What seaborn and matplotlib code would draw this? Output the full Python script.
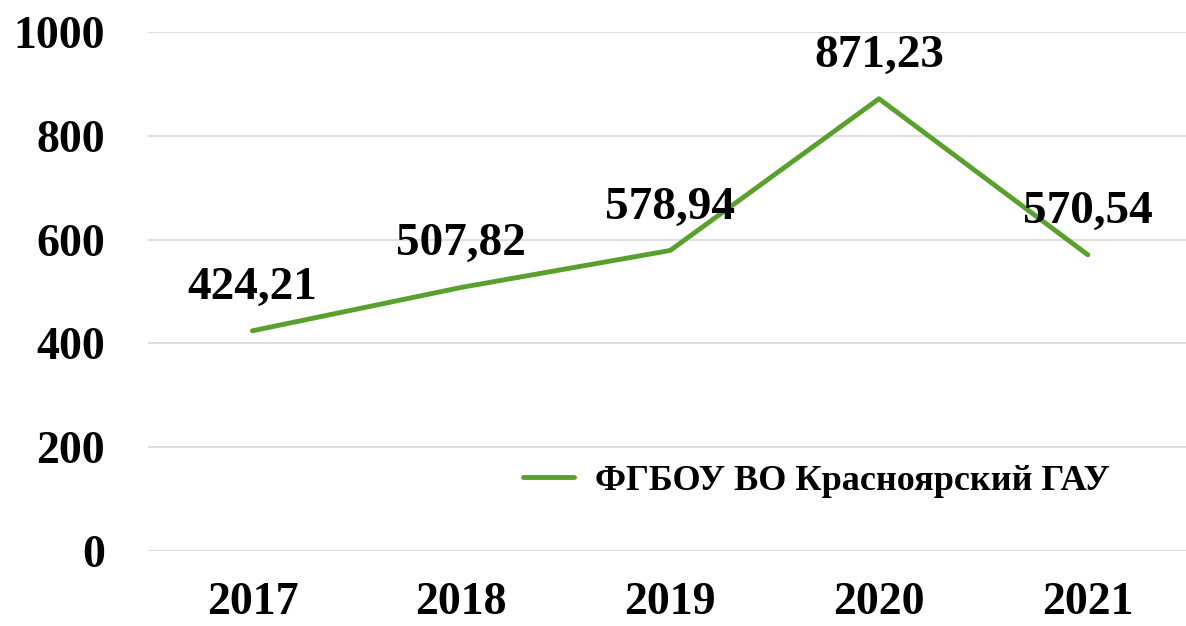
import seaborn as sns
import matplotlib.pyplot as plt
import pandas as pd

years = ['2017', '2018', '2019', '2020', '2021']
values = [424.21, 507.82, 578.94, 871.23, 570.54]
series_name = 'ФГБОУ ВО Красноярский ГАУ'

df = pd.DataFrame({'year': years, 'value': values, 'org': series_name})

sns.set_style('white')
plt.rcParams['font.family'] = ['Liberation Serif', 'DejaVu Serif']
plt.rcParams['font.weight'] = 'bold'
plt.rcParams['text.color'] = 'black'
plt.rcParams['xtick.color'] = 'black'
plt.rcParams['ytick.color'] = 'black'

fig = plt.figure(figsize=(11.86, 6.26), dpi=100)
ax = fig.add_axes([0.1248, 0.1198, 0.8752, 0.8292])

sns.lineplot(data=df, x='year', y='value', hue='org', palette=['#5aa02c'],
             linewidth=3.5, ax=ax, sort=False)

# подписи значений над точками
for i, v in enumerate(values):
    ax.annotate(f'{v:.2f}'.replace('.', ','), (i, v), xytext=(0, 31),
                textcoords='offset points', ha='center', va='center',
                fontsize=34, fontweight='bold', color='black')

ax.set_xlim(-0.5, 4.47)
ax.set_ylim(0, 1000)
ax.set_yticks(range(0, 1001, 200))
ax.yaxis.grid(True, color='#d9d9d9', linewidth=1.2)
ax.xaxis.grid(False)
for s in ax.spines.values():
    s.set_visible(False)
ax.set_xlabel('')
ax.set_ylabel('')
ax.tick_params(axis='both', labelsize=33, length=0, colors='black')
ax.tick_params(axis='y', pad=31)
ax.tick_params(axis='x', pad=22)
for lbl in ax.get_xticklabels() + ax.get_yticklabels():
    lbl.set_fontweight('bold')

leg = ax.legend(loc='center left', bbox_to_anchor=(0.33, 0.135), frameon=False,
                fontsize=26, handlelength=1.4, handletextpad=0.6)
for t in leg.get_texts():
    t.set_fontweight('bold')
    t.set_color('black')

fig.savefig('out.png', dpi=100)
